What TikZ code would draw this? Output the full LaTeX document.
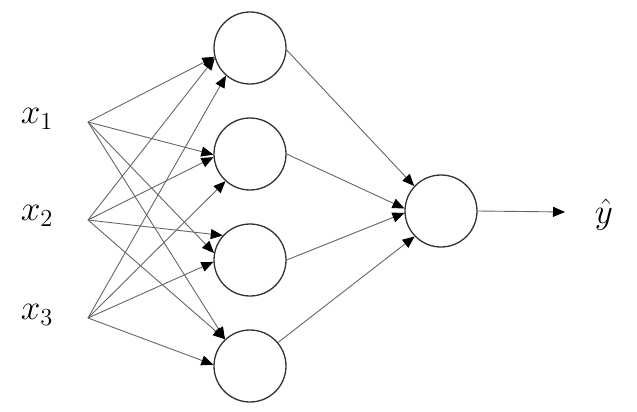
\documentclass[tikz,border=0pt]{standalone}
\usepackage{graphicx}
\usetikzlibrary{arrows.meta}
\newcommand{\biglbl}[1]{\scalebox{1.7}{\huge$#1$}}
\begin{document}
\begin{tikzpicture}[x=1pt,y=-1pt,
  neuron/.style={circle,draw=black!80,line width=1.3pt,minimum size=72pt,inner sep=0pt,fill=white},
  conn/.style={draw=black!60,line width=0.9pt,-{Triangle[length=12pt,width=10pt,color=black]}},
  lbl/.style={inner sep=0pt}]
\useasboundingbox (0,0) rectangle (637,412);
\node[lbl] (x1) at (37,119) {\biglbl{x_1}};
\node[lbl] (x2) at (37,216) {\biglbl{x_2}};
\node[lbl] (x3) at (37,315) {\biglbl{x_3}};
\coordinate (i1) at (88,122);
\coordinate (i2) at (88,220);
\coordinate (i3) at (88,318);
\node[neuron] (h1) at (250,48) {};
\node[neuron] (h2) at (250,154) {};
\node[neuron] (h3) at (250,260) {};
\node[neuron] (h4) at (250,366) {};
\node[neuron] (o) at (441,211) {};
\node[lbl] (y) at (604,215) {\biglbl{\hat{y}}};
\coordinate (oend) at (565,212);
% input -> hidden
\draw[conn] (i1) -- (h1.194);
\draw[conn] (i2) -- (h1.196);
\draw[conn] (i3) -- (h1.229);
\draw[conn] (i1) -- (h2.181);
\draw[conn] (i2) -- (h2.185);
\draw[conn] (i3) -- (h2.228);
\draw[conn] (i1) -- (h3.169);
\draw[conn] (i2) -- (h3.138);
\draw[conn] (i3) -- (h3.183);
\draw[conn] (i1) -- (h4.133);
\draw[conn] (i2) -- (h4.133);
\draw[conn] (i3) -- (h4.178);
% hidden -> output
\draw[conn] (h1.-3) -- (o.137);
\draw[conn] (h2.east) -- (o.176);
\draw[conn] (h3.east) -- (o.183);
\draw[conn] (h4.40) -- (o.224);
\draw[conn] (o.east) -- (oend);
\end{tikzpicture}
\end{document}
